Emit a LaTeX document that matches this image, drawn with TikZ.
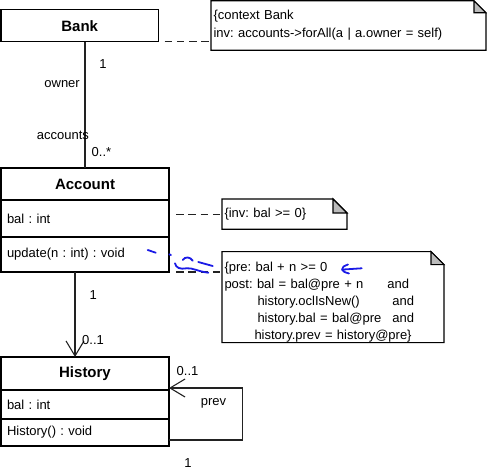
\documentclass[tikz,border=0pt]{standalone}
\usepackage{fontspec}
\setmainfont{Liberation Sans}
\usetikzlibrary{arrows.meta,positioning}
\frenchspacing
\newcommand{\umltext}{\fontsize{13}{17.2}\selectfont}
\definecolor{umlline}{HTML}{222222}
\definecolor{umlfold}{HTML}{BBBBBB}
\definecolor{umlpen}{HTML}{1A1AE6}
\tikzset{
  umlname/.style={draw,line width=1.1pt,outer sep=0pt,inner sep=0pt,minimum width=168pt,font=\bfseries\fontsize{15}{18}\selectfont},
  umlpart/.style={draw,line width=1.1pt,outer sep=0pt,inner xsep=6pt,inner ysep=0pt,text width=156pt,align=left,font=\umltext},
  umlnote/.style={inner xsep=2.5pt,inner ysep=0pt,outer sep=0pt,align=left,anchor=north west,font=\umltext},
  umlassoc/.style={draw=umlline,line width=1.1pt},
  umlnav/.style={umlassoc,-{Straight Barb[length=15pt,width=18pt]}},
  umltie/.style={draw=umlline,line width=1.1pt,dash pattern=on 7.5pt off 4.8pt},
  umllabel/.style={font=\umltext,inner sep=0pt},
  penmark/.style={umlpen,line width=1.8pt,line cap=round,line join=round},
}
\begin{document}
\begin{tikzpicture}[x=1pt,y=-1pt]
\useasboundingbox (0,0) rectangle (487,470);
% classes
\node[umlname,minimum width=157.5pt,minimum height=32pt,anchor=north west] (bank) at (1,9.7) {Bank};
\node[umlname,minimum height=32pt,anchor=north west] (account) at (1,168) {Account};
\node[umlpart,minimum height=37pt,below=0pt of account] (accountattr) {bal : int};
\node[umlpart,minimum height=35pt,below=0pt of accountattr] (accountop) {update(n : int) : void};
\node[umlname,minimum height=33pt,anchor=north west] (history) at (1,357) {History};
\node[umlpart,minimum height=29pt,below=0pt of history] (historyattr) {bal : int};
\node[umlpart,minimum height=27pt,below=0pt of historyattr] (historyop) {History() : void};
% OCL notes
\node[umlnote,text width=270pt,minimum height=49.5pt,font=\fontsize{13}{18}\selectfont] (banknote) at (211,0.8) {\{context Bank\\inv: accounts->forAll(a | a.owner = self)};
\node[umlnote,text width=120pt,minimum height=30.3pt] (invnote) at (222,199) {\{inv: bal >= 0\}};
\node[umlnote,text width=217pt] (opnote) at (222,251.7) {\rule{0pt}{19.5pt}\{pre: bal + n >= 0\\
  \makebox[163pt][l]{post: bal = bal@pre + n}and\\
  \hspace*{33pt}\makebox[135pt][l]{history.oclIsNew()}and\\
  \hspace*{33pt}\makebox[135pt][l]{history.bal = bal@pre}and\\
  \hspace*{30pt}history.prev = history@pre\}};
\foreach \n/\f in {banknote/12pt,invnote/14pt,opnote/13pt}{
  \draw[line width=1.1pt] (\n.north west) -- ([xshift=-\f]\n.north east) -- ([yshift=-\f]\n.north east) -- (\n.south east) -- (\n.south west) -- cycle;
  \draw[line width=1.1pt,fill=umlfold] ([xshift=-\f]\n.north east) -- ([xshift=-\f,yshift=-\f]\n.north east) -- ([yshift=-\f]\n.north east) -- cycle;
}
% associations
\draw[umlassoc] (account.north |- bank.south) -- (account.north);
\draw[umlnav] ([xshift=-10pt]accountop.south) -- ([xshift=-10pt]history.north);
\draw[umlnav] ([yshift=6pt]historyop.south east) -- ++(73.5,0) |- ([yshift=2pt]history.south east);
\draw[umltie] ([xshift=6pt]bank.south east) -- (bank.south east -| banknote.west);
\draw[umltie] ([xshift=7pt]accountattr.east |- invnote.west) -- (invnote.west);
\draw[umltie] ([xshift=7pt]accountop.south east) -- (accountop.south east -| opnote.west);
% ends and roles
\node[umllabel] (bankend) at (103,64) {1};
\node[umllabel,anchor=east] (ownerrole) at (80,84) {owner};
\node[umllabel,anchor=west] (accountsrole) at (36.7,135) {accounts};
\node[umllabel] (accountend) at (101.5,152) {0..*};
\node[umllabel] (accountone) at (93.3,295) {1};
\node[umllabel] (historyend) at (93,340) {0..1};
\node[umllabel] (prevend) at (187.5,370.7) {0..1};
\node[umllabel] (prevrole) at (213.5,403) {prev};
\node[umllabel] (nextend) at (188,462.7) {1};
% pen marks
\draw[penmark] (147.7,250) -- (155.7,252.7);
\draw[penmark] (169.3,254.3) -- (171,255);
\draw[penmark] (182.7,260) .. controls (185,256.5) and (190,256.5) .. (192.7,260.7);
\draw[penmark] (175,263.3) .. controls (176,268) and (180,269.5) .. (186.7,268.3) .. controls (192,267.5) and (198,271.5) .. (208.3,272.7);
\draw[penmark] (198.3,262) -- (212.7,266);
\draw[penmark] (361.7,268.3) -- (343.5,269.5);
\draw[penmark] (348,264.5) .. controls (343,266.5) .. (342,269.5) .. controls (344,272) .. (349,273.5);
\end{tikzpicture}
\end{document}
